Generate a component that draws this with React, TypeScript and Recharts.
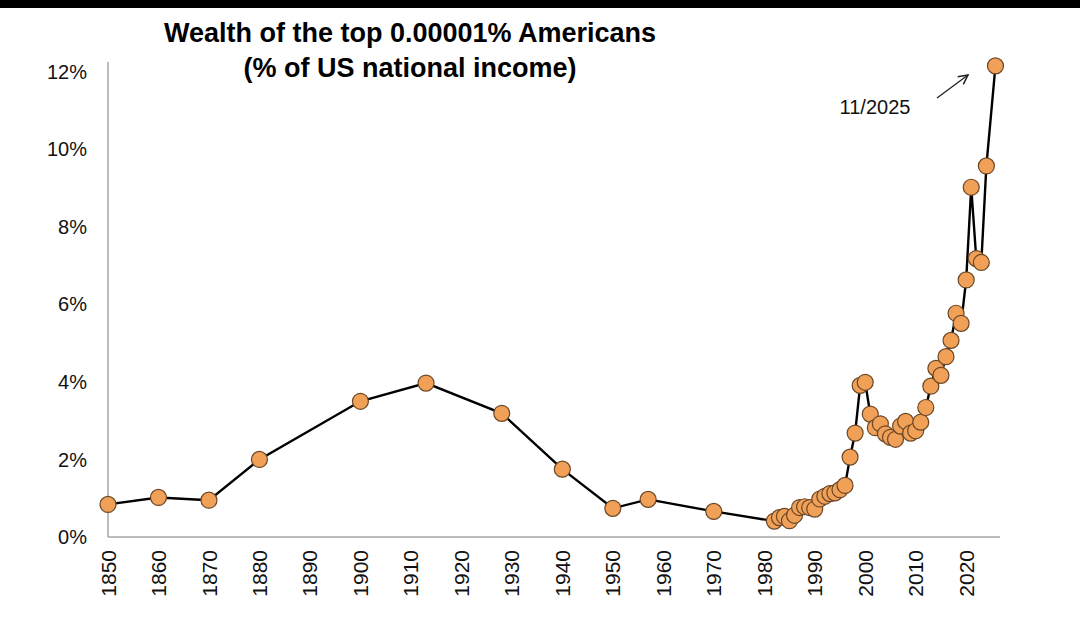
import React from "react";
import { LineChart, Line, XAxis, YAxis } from "recharts";

const years = [
  1850, 1860, 1870, 1880, 1900, 1913, 1928, 1940, 1950, 1957, 1970,
  1982, 1983, 1984, 1985, 1986, 1987, 1988, 1989, 1990, 1991, 1992, 1993,
  1994, 1995, 1996, 1997, 1998, 1999, 2000, 2001, 2002, 2003, 2004, 2005,
  2006, 2007, 2008, 2009, 2010, 2011, 2012, 2013, 2014, 2015, 2016, 2017,
  2018, 2019, 2020, 2021, 2022, 2023, 2024, 2025.8,
];

const shares = [
  0.84, 1.02, 0.95, 2.0, 3.5, 3.97, 3.19, 1.75, 0.74, 0.97, 0.66,
  0.41, 0.5, 0.53, 0.42, 0.56, 0.76, 0.78, 0.76, 0.72, 0.98, 1.05, 1.12,
  1.14, 1.22, 1.33, 2.06, 2.68, 3.91, 3.99, 3.17, 2.82, 2.92, 2.66, 2.57,
  2.52, 2.86, 2.98, 2.68, 2.74, 2.96, 3.34, 3.89, 4.35, 4.17, 4.65, 5.07,
  5.77, 5.51, 6.63, 9.02, 7.18, 7.08, 9.57, 12.15,
];

const xTicks = [
  1850, 1860, 1870, 1880, 1890, 1900, 1910, 1920, 1930, 1940, 1950, 1960,
  1970, 1980, 1990, 2000, 2010, 2020,
];
const yTicks = [0, 2, 4, 6, 8, 10, 12];

const data = years.map((year, i) => ({ year, share: shares[i] }));

const FONT = "'Liberation Sans', Arial, Helvetica, sans-serif";

const YearTick = (props: any) => {
  const { x, y, payload } = props;
  return (
    <text
      x={x}
      y={y + 13}
      dy="0.36em"
      transform={`rotate(-90, ${x}, ${y + 13})`}
      textAnchor="end"
      fontSize={21}
      fontFamily={FONT}
      fill="#111"
    >
      {payload.value}
    </text>
  );
};

export default function App() {
  return (
    <div
      style={{
        position: "absolute",
        left: 0,
        top: 0,
        width: 1080,
        height: 642,
        background: "#fff",
        overflow: "hidden",
        fontFamily: FONT,
      }}
    >
      <div style={{ position: "absolute", left: 0, top: 0, width: 1080, height: 8, background: "#000" }} />
      <div
        style={{
          position: "absolute",
          left: 0,
          top: 16,
          width: 820,
          textAlign: "center",
          fontSize: 27,
          lineHeight: "35px",
          fontWeight: "bold",
          color: "#000",
        }}
      >
        Wealth of the top 0.00001% Americans
        <br />
        (% of US national income)
      </div>
      <LineChart
        width={1080}
        height={642}
        data={data}
        margin={{ top: 62, right: 80, bottom: 0, left: 0 }}
      >
        <XAxis
          dataKey="year"
          type="number"
          domain={[1850, 2026.7]}
          ticks={xTicks}
          interval={0}
          height={105}
          tickLine={false}
          tickSize={0}
          tickMargin={0}
          axisLine={{ stroke: "#a6a6a6", strokeWidth: 1.5 }}
          tick={<YearTick />}
        />
        <YAxis
          type="number"
          domain={[0, 12.25]}
          ticks={yTicks}
          width={108}
          tickLine={false}
          tickSize={0}
          tickMargin={21}
          axisLine={{ stroke: "#a6a6a6", strokeWidth: 1.5 }}
          tickFormatter={(v: number) => `${v}%`}
          tick={{ fontSize: 20, fontFamily: FONT, fill: "#111" }}
        />
        <Line
          type="linear"
          dataKey="share"
          stroke="#000"
          strokeWidth={2.4}
          dot={{ r: 8, fill: "#F1A058", stroke: "#6b4726", strokeWidth: 1.2 }}
          activeDot={false}
          isAnimationActive={false}
        />
      </LineChart>
      <svg
        width={1080}
        height={642}
        style={{ position: "absolute", left: 0, top: 0, pointerEvents: "none" }}
      >
        <defs>
          <marker id="arrowHead" viewBox="0 0 10 10" refX="9" refY="5" markerWidth="9" markerHeight="9" orient="auto">
            <path d="M1,1 L9,5 L1,9" fill="none" stroke="#222" strokeWidth="1.3" />
          </marker>
        </defs>
        <line x1={937} y1={98} x2={968} y2={75} stroke="#222" strokeWidth={1.3} markerEnd="url(#arrowHead)" />
        <text x={875} y={107} dy="0.36em" textAnchor="middle" fontSize={20} fontFamily={FONT} fill="#111">
          11/2025
        </text>
      </svg>
    </div>
  );
}
